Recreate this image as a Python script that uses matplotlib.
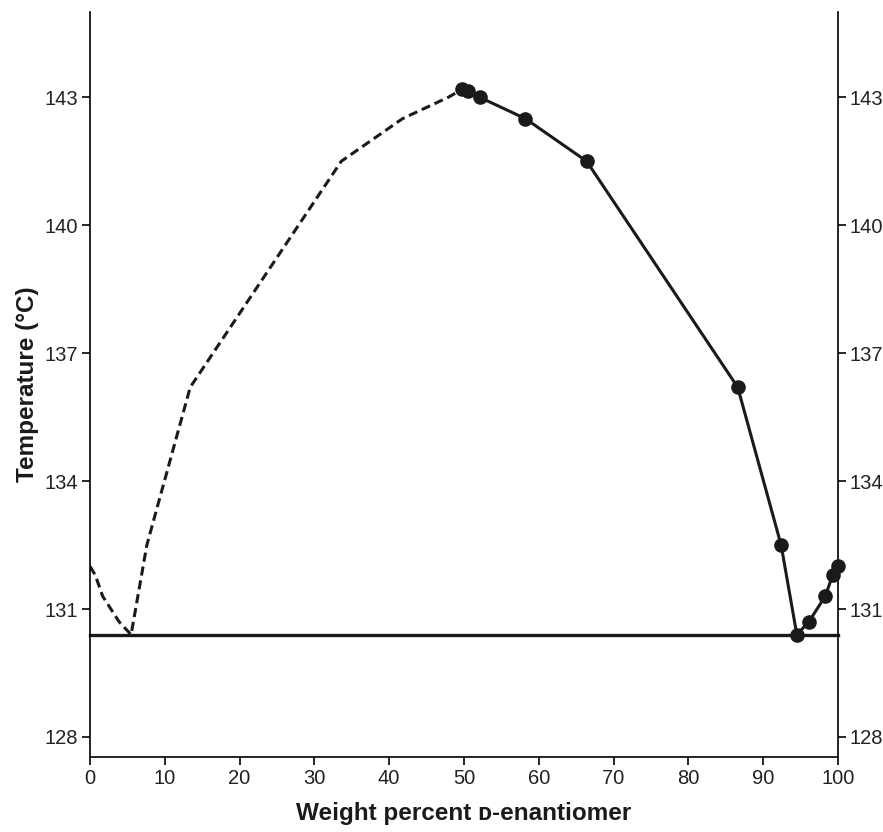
import numpy as np
import matplotlib
matplotlib.use('Agg')
import matplotlib.pyplot as plt

plt.rcParams['font.family'] = ['Liberation Sans', 'DejaVu Sans']

# measured liquidus points (solid curve with markers)
meas_x = [49.8, 50.6, 52.1, 58.2, 66.4, 86.6, 92.4, 94.5, 96.1, 98.3, 99.3, 100.0]
meas_t = [143.2, 143.15, 143.0, 142.5, 141.5, 136.2, 132.5, 130.4, 130.7, 131.3, 131.8, 132.0]

# mirrored branch (dashed, no markers)
mirr_x = [0.0, 0.7, 1.7, 3.9, 5.5, 7.6, 13.4, 33.6, 41.8, 47.9, 49.4, 50.2]
mirr_t = [132.0, 131.8, 131.3, 130.7, 130.4, 132.5, 136.2, 141.5, 142.5, 143.0, 143.15, 143.2]

eutectic_t = 130.4
xticks = [0, 10, 20, 30, 40, 50, 60, 70, 80, 90, 100]
yticks = [128, 131, 134, 137, 140, 143]

fig = plt.figure(figsize=(8.83, 8.32), dpi=100)
ax = fig.add_axes([0.1019, 0.0901, 0.8471, 0.8955])

ax.plot(mirr_x, mirr_t, color='#1a1a1a', lw=2.2, linestyle=(0, (3, 1.6)))
ax.plot(meas_x, meas_t, color='#1a1a1a', lw=2.2, marker='o', markersize=9.5,
        clip_on=False, zorder=3)
ax.plot([0, 100], [eutectic_t, eutectic_t], color='#1a1a1a', lw=2.4, clip_on=False)

ax.set_xlim(0, 100)
ax.set_ylim(127.53, 145.0)
ax.set_xticks(xticks)
ax.set_yticks(yticks)
ax.spines['top'].set_visible(False)
for s in ['left', 'right', 'bottom']:
    ax.spines[s].set_linewidth(1.2)
ax.tick_params(axis='both', direction='out', length=6, width=1.2, labelsize=14.5,
               left=True, right=True, labelleft=True, labelright=True, pad=2.5,
               labelcolor='#222222')

ax.set_xlabel('Weight percent \u1d05-enantiomer', fontsize=17.5, fontweight='bold',
              labelpad=10, color='#1a1a1a')
ax.set_ylabel('Temperature (°C)', fontsize=17.5, fontweight='bold', labelpad=4,
              color='#1a1a1a')

fig.savefig('out.png', dpi=100)
